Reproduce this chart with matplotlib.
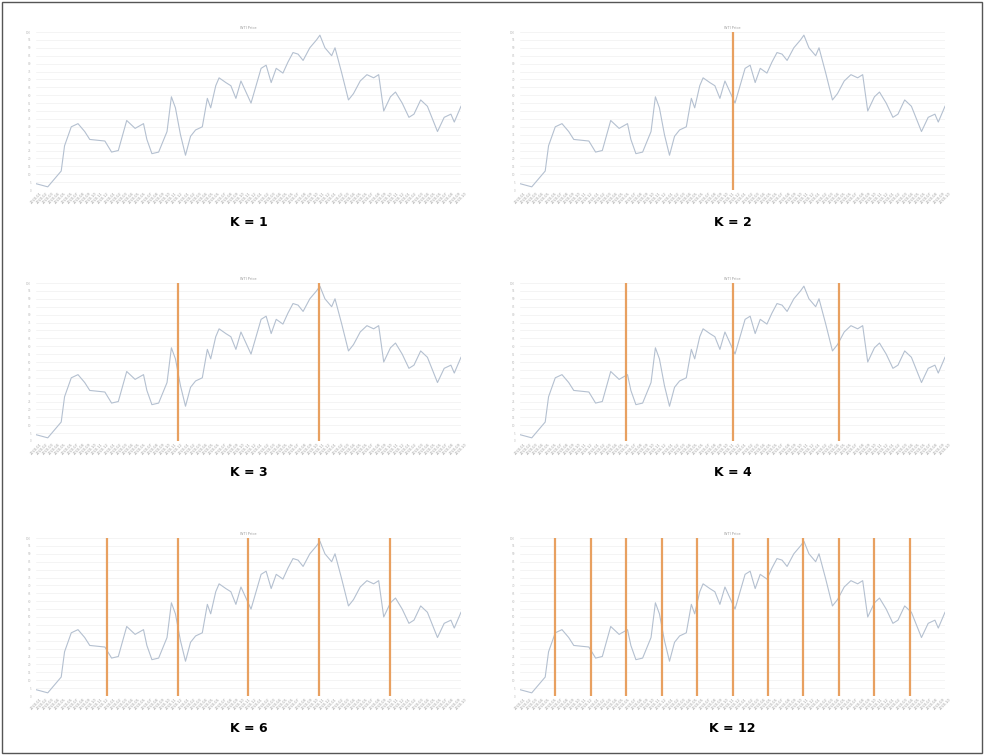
import matplotlib
matplotlib.use("Agg")
import matplotlib.pyplot as plt
import numpy as np

x_pos = [55,90,130,140,160,180,200,215,260,280,300,325,350,375,385,400,420,445,458,470,485,500,515,530,550,565,575,590,600,620,635,650,665,680,695,710,725,740,755,770,790,805,820,835,850,870,890,900,915,935,945,965,985,1000,1020,1040,1060,1075,1090,1110,1125,1145,1165,1180,1200,1220,1250,1270,1290,1300,1320]
values = [4,2,12,28,40,42,37,32,31,24,25,44,39,42,32,23,24,37,59,52,35,22,34,38,40,58,52,66,71,68,66,58,69,62,55,66,77,79,68,77,74,81,87,86,82,90,95,98,90,85,90,74,57,61,69,73,71,73,50,59,62,55,46,48,57,53,37,46,48,43,53]
k_values = [1, 2, 3, 4, 6, 12]
tick_labels = ["2020-%02d" % (i % 12 + 1) for i in range(70)]

fig = plt.figure(figsize=(9.84, 7.55), dpi=100)
W, H = 984, 755
lefts = [36, 520]
tops = [32, 283, 538]
pw, ph = 425, 158
xv = np.array(x_pos, dtype=float)
xmin, xmax = 55, 1320
for idx, k in enumerate(k_values):
    r, c = divmod(idx, 2)
    l, t = lefts[c], tops[r]
    ax = fig.add_axes([l / W, 1 - (t + ph) / H, pw / W, ph / H])
    ax.plot(xv, values, color="#b4c0d0", lw=0.8)
    ax.set_xlim(xmin, xmax)
    ax.set_ylim(0, 100)
    for i in range(1, k):
        ax.axvline(xmin + (xmax - xmin) * i / k, color="#e8a060", lw=1.6)
    ax.set_yticks(np.arange(0, 101, 5))
    ax.tick_params(axis="y", labelsize=2, colors="#bbbbbb", length=0)
    ticks = np.linspace(xmin, xmax, 70)
    ax.set_xticks(ticks)
    ax.set_xticklabels(tick_labels, rotation=45, fontsize=2.5, color="#999999")
    ax.tick_params(axis="x", length=0, pad=1)
    ax.grid(axis="y", color="#f0f0f0", lw=0.5)
    for s in ax.spines.values():
        s.set_visible(False)
    ax.set_title("WTI Price", fontsize=2.5, color="#999999", pad=2)
    fig.text((l + pw / 2) / W, 1 - (t + 190) / H, f"K = {k}", ha="center", va="center",
             fontsize=9, fontweight="bold")

fig.add_artist(plt.Rectangle((0.002, 0.002), 0.996, 0.996, transform=fig.transFigure, fill=False, ec="#555555", lw=1))
fig.savefig("out.png", dpi=100)
